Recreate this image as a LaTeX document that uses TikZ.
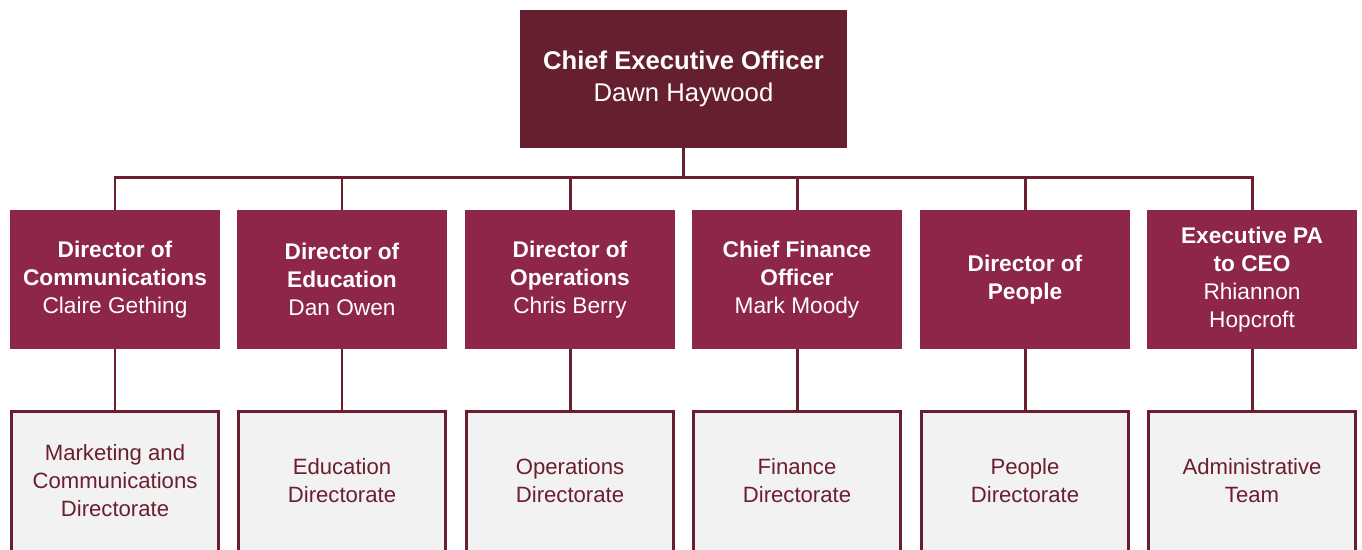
\documentclass[tikz,border=0pt]{standalone}
\usepackage{fontspec}
\setmainfont{Liberation Sans}
\definecolor{ceocol}{RGB}{101,31,46}
\definecolor{dircol}{RGB}{142,38,74}
\definecolor{linecol}{RGB}{107,31,46}
\definecolor{teamfill}{RGB}{242,242,242}

\tikzset{
  ceobox/.style={fill=ceocol, text=white, minimum width=6.54cm, minimum height=2.76cm,
    align=center, font=\fontsize{14.6}{18.2}\selectfont, inner sep=0pt},
  dirbox/.style={fill=dircol, text=white, minimum width=4.2cm, minimum height=2.78cm,
    align=center, font=\fontsize{12.9}{15.9}\selectfont, inner sep=0pt},
  teambox/.style={fill=teamfill, draw=linecol, line width=1.7pt, text=linecol,
    minimum width=4.14cm, minimum height=2.8cm, align=center,
    font=\fontsize{12.6}{15.9}\selectfont, inner sep=0pt},
  link/.style={draw=linecol, line width=1.7pt}
}

\begin{document}
\begin{tikzpicture}[x=0.02cm, y=-0.02cm]

    \clip (0,0) rectangle (1362,549);
    \useasboundingbox (0,0) rectangle (1362,549);

    \node[ceobox] (ceo) at (683.5,79) {\textbf{Chief Executive Officer}\\Dawn Haywood};

    % directors
    \node[dirbox] (comms) at (115,279.5) {\textbf{Director of}\\\textbf{Communications}\\Claire Gething};
    \node[dirbox] (edu)   at (342,279.5) {\textbf{Director of}\\\textbf{Education}\\Dan Owen};
    \node[dirbox] (ops)   at (570,279.5) {\textbf{Director of}\\\textbf{Operations}\\Chris Berry};
    \node[dirbox] (fin)   at (797,279.5) {\textbf{Chief Finance}\\\textbf{Officer}\\Mark Moody};
    \node[dirbox] (peop)  at (1025,279.5) {\textbf{Director of}\\\textbf{People}};
    \node[dirbox] (pa)    at (1252,279.5) {\textbf{Executive PA}\\\textbf{to CEO}\\Rhiannon\\Hopcroft};

    % teams
    \node[teambox] (commsteam) at (115,481) {Marketing and\\Communications\\Directorate};
    \node[teambox] (eduteam)   at (342,481) {Education\\Directorate};
    \node[teambox] (opsteam)   at (570,481) {Operations\\Directorate};
    \node[teambox] (finteam)   at (797,481) {Finance\\Directorate};
    \node[teambox] (peopteam)  at (1025,481) {People\\Directorate};
    \node[teambox] (pateam)    at (1252,481) {Administrative\\Team};

    \coordinate (bus) at (683.5,177);

    \draw[link] (ceo.south) -- (bus) -| (comms.north);
    \draw[link] (bus) -| (edu.north);
    \draw[link] (bus) -| (ops.north);
    \draw[link] (bus) -| (fin.north);
    \draw[link] (bus) -| (peop.north);
    \draw[link] (bus) -| (pa.north);

    \draw[link] (comms) -- (commsteam);
    \draw[link] (edu) -- (eduteam);
    \draw[link] (ops) -- (opsteam);
    \draw[link] (fin) -- (finteam);
    \draw[link] (peop) -- (peopteam);
    \draw[link] (pa) -- (pateam);

\end{tikzpicture}
\end{document}
